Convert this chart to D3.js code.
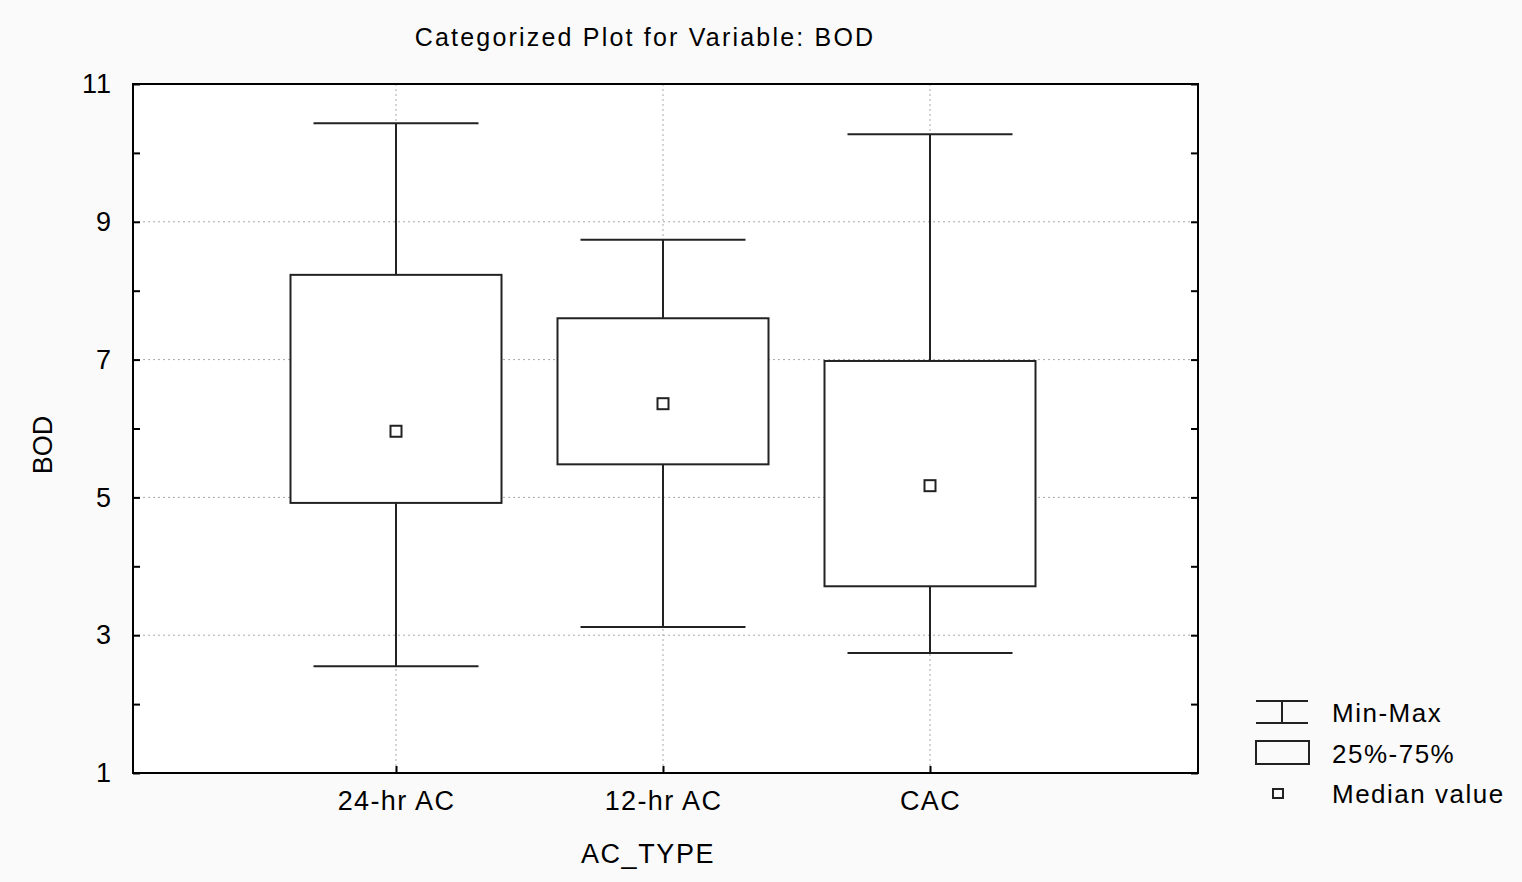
<!DOCTYPE html>
<html><head><meta charset="utf-8">
<script src="https://cdn.jsdelivr.net/npm/d3@7"></script>
<style>html,body{margin:0;padding:0;background:#fafafa;}svg{display:block;}</style>
</head><body>
<script>
const categories = ["24-hr AC", "12-hr AC", "CAC"];
const minVals = [2.55, 3.12, 2.74];
const q1Vals = [4.92, 5.48, 3.71];
const medianVals = [5.96, 6.36, 5.17];
const q3Vals = [8.23, 7.60, 6.98];
const maxVals = [10.43, 8.74, 10.27];
const yTicks = [1, 3, 5, 7, 9, 11];
const yMinor = [2, 4, 6, 8, 10];
const legendLabels = ["Min-Max", "25%-75%", "Median value"];

const W = 1522, H = 882;
const m = {left: 133, right: 1198, top: 84, bottom: 773};
const font = "Liberation Sans, Arial, sans-serif";

const svg = d3.select("body").append("svg").attr("width", W).attr("height", H);
svg.append("rect").attr("x", m.left).attr("y", m.top).attr("width", m.right - m.left).attr("height", m.bottom - m.top).attr("fill", "#fff");

const x = d3.scaleLinear().domain([0, categories.length + 1]).range([m.left - 4, m.right - 1]);
const y = d3.scaleLinear().domain([1, 11]).range([m.bottom, m.top]);
const data = categories.map((c, i) => ({c, i: i + 1, min: minVals[i], q1: q1Vals[i], med: medianVals[i], q3: q3Vals[i], max: maxVals[i]}));

// grid
const grid = svg.append("g").attr("stroke", "#a8a8a8").attr("stroke-width", 1).attr("stroke-dasharray", "2,3");
grid.selectAll(".hg").data(yTicks.filter(t => t > 1 && t < 11)).join("line")
  .attr("x1", m.left).attr("x2", m.right).attr("y1", d => y(d)).attr("y2", d => y(d));
grid.selectAll(".vg").data(data).join("line")
  .attr("x1", d => x(d.i)).attr("x2", d => x(d.i)).attr("y1", m.top).attr("y2", m.bottom);

// axes (left and right with inward ticks)
const yAxisL = d3.axisLeft(y).tickValues(yTicks).tickSize(-7).tickPadding(22).tickFormat(d3.format("d"));
const gL = svg.append("g").attr("transform", `translate(${m.left},0)`).call(yAxisL);
gL.select(".domain").remove();
gL.selectAll("line").attr("stroke", "#000").attr("stroke-width", 2);
gL.selectAll("text").attr("font-family", font).attr("font-size", 27).attr("fill", "#000").attr("dx", 1).attr("letter-spacing", 1);
const yMinorL = d3.axisLeft(y).tickValues(yMinor).tickSize(-7).tickFormat("");
const gLm = svg.append("g").attr("transform", `translate(${m.left},0)`).call(yMinorL);
gLm.select(".domain").remove(); gLm.selectAll("line").attr("stroke", "#000").attr("stroke-width", 2);

const yAxisR = d3.axisRight(y).tickValues(yTicks.concat(yMinor)).tickSize(-7).tickFormat("");
const gR = svg.append("g").attr("transform", `translate(${m.right},0)`).call(yAxisR);
gR.select(".domain").remove(); gR.selectAll("line").attr("stroke", "#000").attr("stroke-width", 2);

const xAxis = d3.axisBottom(x).tickValues(data.map(d => d.i)).tickSize(-7).tickPadding(18).tickFormat(d => categories[d - 1]);
const gX = svg.append("g").attr("transform", `translate(0,${m.bottom})`).call(xAxis);
gX.select(".domain").remove();
gX.selectAll("line").attr("stroke", "#000").attr("stroke-width", 2);
gX.selectAll("text").attr("font-family", font).attr("font-size", 27).attr("fill", "#000").attr("letter-spacing", 1.4);

// frame
svg.append("rect").attr("x", m.left).attr("y", m.top).attr("width", m.right - m.left).attr("height", m.bottom - m.top)
  .attr("fill", "none").attr("stroke", "#000").attr("stroke-width", 2);

// boxes
const boxW = 211, capW = 165, medS = 11;
const g = svg.append("g").attr("stroke", "#222").attr("stroke-width", 2).attr("fill", "none");
const bx = g.selectAll(".b").data(data).join("g");
bx.append("line").attr("x1", d => x(d.i)).attr("x2", d => x(d.i)).attr("y1", d => y(d.max)).attr("y2", d => y(d.q3));
bx.append("line").attr("x1", d => x(d.i)).attr("x2", d => x(d.i)).attr("y1", d => y(d.q1)).attr("y2", d => y(d.min));
bx.append("line").attr("x1", d => x(d.i) - capW / 2).attr("x2", d => x(d.i) + capW / 2).attr("y1", d => y(d.max)).attr("y2", d => y(d.max));
bx.append("line").attr("x1", d => x(d.i) - capW / 2).attr("x2", d => x(d.i) + capW / 2).attr("y1", d => y(d.min)).attr("y2", d => y(d.min));
bx.append("rect").attr("x", d => x(d.i) - boxW / 2).attr("width", boxW).attr("y", d => y(d.q3)).attr("height", d => y(d.q1) - y(d.q3)).attr("fill", "#fff");
bx.append("rect").attr("x", d => x(d.i) - medS / 2).attr("y", d => y(d.med) - medS / 2).attr("width", medS).attr("height", medS).attr("fill", "#fff");

// titles
svg.append("text").attr("x", 645).attr("y", 46).attr("text-anchor", "middle").attr("font-family", font).attr("font-size", 25).attr("letter-spacing", 2.2).text("Categorized Plot for Variable: BOD");
svg.append("text").attr("x", 648).attr("y", 863).attr("text-anchor", "middle").attr("font-family", font).attr("font-size", 27).attr("letter-spacing", 1.6).text("AC_TYPE");
svg.append("text").attr("transform", "translate(52,445) rotate(-90)").attr("text-anchor", "middle").attr("font-family", font).attr("font-size", 27).text("BOD");

// legend
const lg = svg.append("g").attr("stroke", "#222").attr("stroke-width", 2).attr("fill", "none");
lg.append("line").attr("x1", 1256).attr("x2", 1308).attr("y1", 701).attr("y2", 701);
lg.append("line").attr("x1", 1256).attr("x2", 1308).attr("y1", 723).attr("y2", 723);
lg.append("line").attr("x1", 1282).attr("x2", 1282).attr("y1", 701).attr("y2", 723);
lg.append("rect").attr("x", 1256).attr("y", 741).attr("width", 53).attr("height", 23);
lg.append("rect").attr("x", 1273).attr("y", 789).attr("width", 10).attr("height", 9);
svg.selectAll(".lt").data(legendLabels).join("text")
  .attr("x", 1332).attr("y", (d, i) => 722 + i * 40.5).attr("font-family", font).attr("font-size", 26).attr("letter-spacing", 1.5).text(d => d);
</script>
</body></html>
